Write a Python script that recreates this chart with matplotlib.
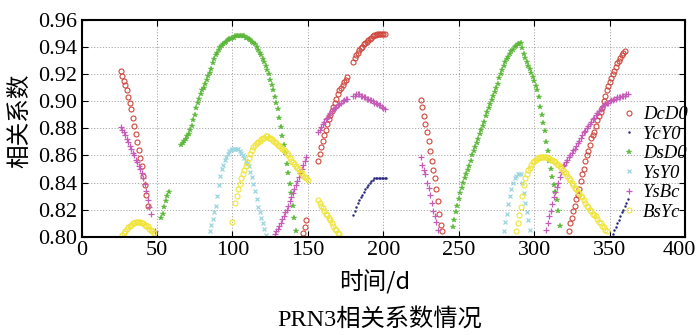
import matplotlib
matplotlib.use("Agg")
import matplotlib.pyplot as plt
import matplotlib.transforms as mtransforms
import numpy as np

# ---- correlation coefficients, one value per day; each run is (first day, values) ----
DcD0_runs = [
    (26, [.922, .919, .915, .912, .908, .903, .899, .894, .888, .882, .876, .870, .864, .858,
          .852, .845, .838, .831, .823]),
    (147, [.803, .807, .812]),
    (157, [.856, .861, .866, .871, .875, .879, .883, .887, .890, .893, .896, .899, .902, .905,
           .908, .910, .912, .914, .916, .918]),
    (180, [.929, .932, .934, .936, .938, .939, .940, .942, .943, .944, .945, .946, .947, .948,
           .949, .949, .950, .950, .950, .950, .950, .950]),
    (225, [.901, .896, .889, .883, .877, .871, .863, .856, .849, .843, .835, .826, .817, .809, .804]),
    (323, [.804, .810, .814, .819, .823, .828, .831, .835, .841, .846, .850, .856, .860, .863,
           .868, .873, .875, .877, .882, .886, .889, .892, .895, .900, .904, .908, .911, .914,
           .917, .920, .922, .925, .928, .930, .932, .934, .936, .937]),
]

YcY0_runs = [
    (180, [.816, .819, .822, .825, .827, .829, .831, .833, .835, .837, .838, .840, .841, .842,
           .843, .843, .843, .843, .843, .843, .843, .843, .843]),
    (352, [.802, .805, .807, .810, .812, .815, .818, .820, .823, .825, .828]),
]

DsD0_runs = [
    (53, [.814, .817, .822, .826, .830, .833]),
    (66, [.868, .869, .871, .872, .874, .876, .879, .882, .886, .890, .895, .899, .902, .905,
          .908, .910, .913, .916, .919, .921, .924, .928, .931, .934, .936, .938, .940, .941,
          .942, .943, .944, .945, .946, .946, .947, .947, .948, .948, .948, .948, .948, .948,
          .948, .947, .947, .946, .945, .944, .943, .942, .940, .938, .936, .934, .931, .929,
          .926, .923, .920, .916, .912, .908, .903, .899, .894, .888, .881, .874, .868, .862,
          .854, .847, .839, .832, .823, .814, .804]),
    (246, [.807, .812, .818, .823, .828, .832, .836, .840, .843, .846, .849, .852, .856, .860,
           .863, .866, .869, .872, .876, .879, .882, .885, .889, .892, .895, .898, .901, .904,
           .907, .910, .913, .917, .920, .923, .926, .929, .931, .933, .935, .937, .938, .940,
           .941, .942, .942, .943,
           .939, .935, .932, .929, .926, .924, .921, .918, .915, .911, .908, .903, .896, .890,
           .884, .878, .870, .863, .856, .850, .844, .838, .833, .827, .819, .808]),
]

YsY0_runs = [
    (85, [.804, .809, .813, .818, .823, .830, .838, .845, .850, .853, .857, .859, .861, .863,
          .864, .865, .865, .865, .865, .865, .863, .862, .860, .858, .856, .854, .852, .848,
          .844, .839, .834, .828, .822, .818, .814, .810, .806, .801]),
    (280, [.804, .811, .817, .824, .830, .835, .840, .843, .845, .846, .846, .846, .840, .832,
           .825, .818, .812, .805]),
]

YsBc_runs = [
    (26, [.881, .879, .877, .875, .872, .870, .867, .865, .862, .860, .857, .855, .852, .850,
          .847, .843, .839, .834, .827, .822, .817]),
    (49, [.804]),
    (128, [.802, .804, .806, .808, .810, .813, .815, .818, .820, .823, .826, .829, .832, .835,
           .838, .841, .844, .847, .850, .853, .856, .859]),
    (157, [.877, .879, .881, .883, .885, .887, .888, .890, .891, .893, .894, .895, .896, .897,
           .898, .899, .900, .901, .902, .902]),
    (180, [.904, .904, .905, .905, .905, .904, .904, .903, .903, .902, .902, .901, .901, .900,
           .899, .899, .898, .897, .897, .896, .895, .894]),
    (225, [.859, .853, .849, .846, .840, .836, .831, .825, .819, .815, .811, .805]),
    (308, [.805, .810, .815, .819, .824, .829, .833, .837, .840, .844, .848, .852, .853, .855,
           .857, .859, .860, .862, .864, .865, .867, .869, .871, .873, .875, .877, .878, .880,
           .882, .883, .885, .887, .888, .890, .891, .893, .894, .896, .897, .898, .899, .899,
           .900, .901, .901, .902, .902, .903, .903, .903, .904, .904, .904, .905, .905]),
]

BsYc_runs = [
    (27, [.801, .803, .804, .806, .807, .808, .809, .810, .810, .811, .811, .811, .811, .810,
          .810, .809, .808, .808, .806, .805, .804, .803]),
    (100, [.811]),
    (102, [.825, .830, .835, .839, .843, .846, .849, .852, .855, .858, .861, .864, .866, .868,
           .869, .870, .871, .872, .873, .873, .874, .874, .873, .873, .872, .871, .870, .869,
           .868, .867, .866, .865, .864, .863, .862, .860, .858, .856, .855, .854, .852, .851,
           .850, .848, .847, .845, .844, .843, .842]),
    (157, [.827, .825, .823, .821, .819, .817, .816, .814, .812, .810, .808, .806, .805, .803, .802]),
    (288, [.804, .810, .816, .822, .830, .838, .843, .846, .849, .851, .853, .855, .856, .857,
           .858, .858, .859, .859, .859, .859, .859, .858, .858, .857, .857, .856, .855, .854,
           .853, .852, .851, .849, .848, .847, .845, .843, .842, .840, .838, .836, .835, .833,
           .832, .830, .829, .827, .825, .823, .822, .820, .819, .817, .816, .815, .813, .811,
           .810, .808, .807, .805, .804]),
]

series_names = ["DcD0", "YcY0", "DsD0", "YsY0", "YsBc", "BsYc"]
x_ticks = [0, 50, 100, 150, 200, 250, 300, 350, 400]
y_ticks = [0.80, 0.82, 0.84, 0.86, 0.88, 0.90, 0.92, 0.94, 0.96]


def unpack(runs):
    days, vals = [], []
    for start, values in runs:
        days.extend(start + i for i in range(len(values)))
        vals.extend(values)
    return np.array(days), np.array(vals)


styles = {
    "DcD0": dict(marker="o", ms=3.6, mfc="none", mec="#d0463c", mew=0.8),
    "YcY0": dict(marker=".", ms=2.8, mfc="#26267f", mec="#26267f", mew=0.3),
    "DsD0": dict(marker="*", ms=4.2, mfc="#5cb83a", mec="#5cb83a", mew=0.3),
    "YsY0": dict(marker="x", ms=2.4, mfc="#9cd6de", mec="#9cd6de", mew=0.9),
    "YsBc": dict(marker="+", ms=4.2, mfc="#c45cb8", mec="#c45cb8", mew=0.9),
    "BsYc": dict(marker="o", ms=3.6, mfc="none", mec="#f0e438", mew=0.8),
}
runs = {"DcD0": DcD0_runs, "YcY0": YcY0_runs, "DsD0": DsD0_runs,
        "YsY0": YsY0_runs, "YsBc": YsBc_runs, "BsYc": BsYc_runs}

serif = "Liberation Serif"
cjk = ["Noto Sans CJK SC", "DejaVu Sans"]

fig = plt.figure(figsize=(7.0, 3.35), dpi=100)
ax = fig.add_axes([81.5 / 700, 1 - 236.7 / 335, (685 - 81.5) / 700, (236.7 - 20) / 335])

for name in series_names:
    d, v = unpack(runs[name])
    ax.plot(d, v, linestyle="none", label=name, **styles[name])

ax.set_xlim(0, 400)
ax.set_ylim(0.80, 0.96)
ax.set_xticks(x_ticks)
ax.set_yticks(y_ticks)
ax.set_xticklabels([str(t) for t in x_ticks], fontfamily=serif, fontsize=16)
ax.set_yticklabels([f"{t:.2f}" for t in y_ticks], fontfamily=serif, fontsize=16)
ax.tick_params(direction="in", top=True, right=True, length=4, width=0.8, pad=3)
ax.grid(True, linestyle=(0, (1.2, 1.8)), color="#a8a8a8", linewidth=0.7)
for sp in ax.spines.values():
    sp.set_linewidth(1.5)

# keep the last x tick label inside the figure
last = ax.get_xticklabels()[-1]
last.set_transform(last.get_transform() +
                   mtransforms.ScaledTranslation(-6 / 100, 0, fig.dpi_scale_trans))

ax.set_ylabel("相关系数", fontfamily=cjk, fontsize=17)
ax.yaxis.label.set_verticalalignment("center")
ax.yaxis.set_label_coords((20 - 81.5) / 603.5, 0.535)
ax.set_xlabel("时间/d", fontfamily=cjk, fontsize=17)
ax.xaxis.label.set_verticalalignment("center")
ax.xaxis.set_label_coords((375 - 81.5) / 603.5, -(282 - 236.7) / 216.7)

leg = ax.legend(loc="upper left", bbox_to_anchor=(0.895, 0.603), frameon=False,
                prop=dict(family=serif, style="italic", size=13.5),
                handlelength=0.8, handletextpad=0.35, labelspacing=0.13,
                borderpad=0, borderaxespad=0, markerscale=1.0)

fig.text(380 / 700, 1 - 319 / 335, "PRN3相关系数情况", ha="center", va="center",
         fontfamily=[serif, "Noto Sans CJK SC"], fontsize=17.5)

fig.savefig("out.png", dpi=100)
